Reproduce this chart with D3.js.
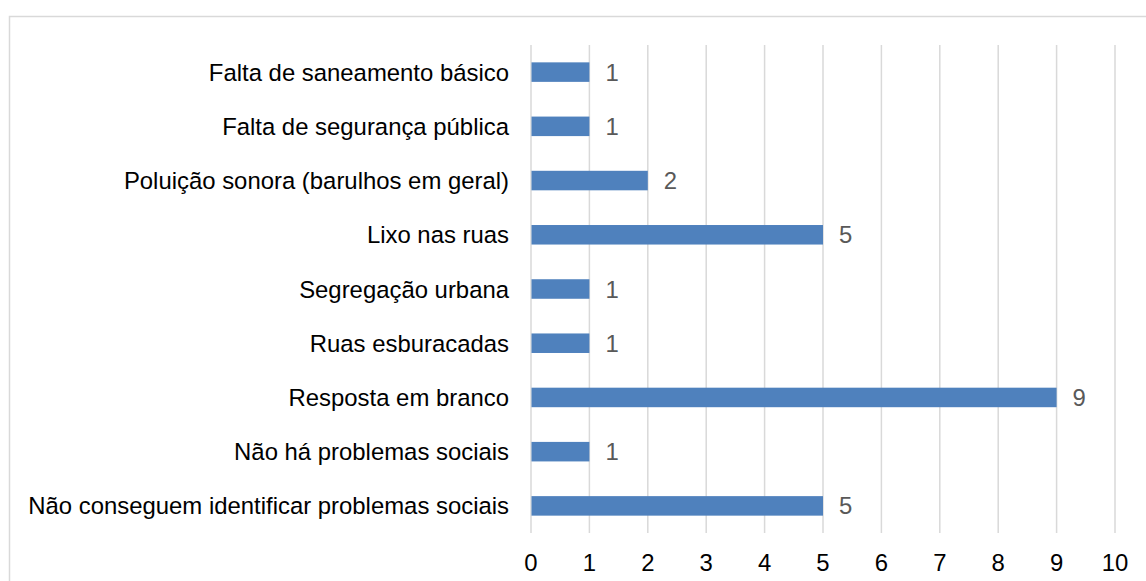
<!DOCTYPE html>
<meta charset="utf-8">
<html>
<style>
body { margin: 0; background: #fff; }
text { font-family: "Liberation Sans", Arial, sans-serif; }
.grid line { stroke: #d9d9d9; stroke-width: 1.5px; }
</style>
<body>
<svg width="1146" height="581"></svg>
<script src="https://d3js.org/d3.v7.min.js"></script>
<script>
var categories = [
  "Falta de saneamento básico",
  "Falta de segurança pública",
  "Poluição sonora (barulhos em geral)",
  "Lixo nas ruas",
  "Segregação urbana",
  "Ruas esburacadas",
  "Resposta em branco",
  "Não há problemas sociais",
  "Não conseguem identificar problemas sociais"
];
var values = [1, 1, 2, 5, 1, 1, 9, 1, 5];
var xTicks = [0, 1, 2, 3, 4, 5, 6, 7, 8, 9, 10];

var svg = d3.select("svg");
var fs = 23.9;

// chart frame (right and bottom edges fall outside the picture)
svg.append("rect")
    .attr("x", 9.5).attr("y", 16.5)
    .attr("width", 1150).attr("height", 600)
    .attr("fill", "none")
    .attr("stroke", "#d9d9d9")
    .attr("stroke-width", 1.5);

var x = d3.scaleLinear().domain([0, 10]).range([531, 1115]);
var y = d3.scaleBand().domain(categories).range([45, 533]).paddingInner(0.64).paddingOuter(0.32);

// vertical gridlines
svg.append("g").attr("class", "grid")
  .selectAll("line")
  .data(xTicks)
  .enter().append("line")
    .attr("x1", function(d) { return x(d); })
    .attr("x2", function(d) { return x(d); })
    .attr("y1", 45)
    .attr("y2", 533);

// bars
svg.append("g")
  .selectAll("rect")
  .data(values)
  .enter().append("rect")
    .attr("x", x(0) + 0.5)
    .attr("y", function(d, i) { return y(categories[i]); })
    .attr("width", function(d) { return x(d) - x(0) - 0.5; })
    .attr("height", y.bandwidth())
    .attr("fill", "#4f81bd");

// value labels
svg.append("g")
  .selectAll("text")
  .data(values)
  .enter().append("text")
    .attr("x", function(d) { return x(d) + 16; })
    .attr("y", function(d, i) { return y(categories[i]) + y.bandwidth() / 2; })
    .attr("dy", "0.36em")
    .attr("font-size", fs)
    .attr("fill", "#595959")
    .text(function(d) { return d; });

// category labels
svg.append("g")
  .selectAll("text")
  .data(categories)
  .enter().append("text")
    .attr("x", 509)
    .attr("y", function(d) { return y(d) + y.bandwidth() / 2; })
    .attr("dy", "0.36em")
    .attr("text-anchor", "end")
    .attr("font-size", fs)
    .attr("fill", "#000")
    .text(function(d) { return d; });

// x tick labels
svg.append("g")
  .selectAll("text")
  .data(xTicks)
  .enter().append("text")
    .attr("x", function(d) { return x(d); })
    .attr("y", 562)
    .attr("dy", "0.36em")
    .attr("text-anchor", "middle")
    .attr("font-size", fs)
    .attr("fill", "#000")
    .text(function(d) { return d; });
</script>
</body>
</html>
